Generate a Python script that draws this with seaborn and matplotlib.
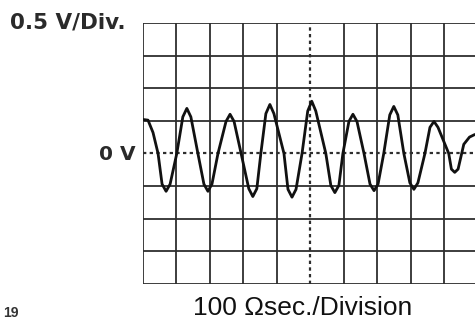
import matplotlib
matplotlib.use("Agg")
import matplotlib.pyplot as plt
import seaborn as sns
import pandas as pd

# waveform points (time in divisions, volts)
t_div = [0.00, 0.15, 0.30, 0.45,
         0.57, 0.69, 0.81, 1.01, 1.19, 1.31, 1.43, 1.64,
         1.82, 1.94, 2.06, 2.24, 2.48, 2.60, 2.72, 2.93,
         3.16, 3.28, 3.40, 3.52, 3.67, 3.79, 3.91, 4.21,
         4.33, 4.45, 4.57, 4.75, 4.92, 5.04, 5.16, 5.46,
         5.61, 5.73, 5.85, 5.97, 6.15, 6.27, 6.39, 6.60,
         6.78, 6.90, 7.02, 7.19, 7.37, 7.49, 7.61, 7.79,
         7.97, 8.09, 8.21, 8.42, 8.57, 8.69, 8.81, 9.13,
         9.21, 9.31, 9.41, 9.58, 9.75, 9.91]
volts = [0.52, 0.51, 0.32, 0.00,
         -0.47, -0.58, -0.47, 0.00, 0.56, 0.69, 0.56, 0.00,
         -0.47, -0.58, -0.47, 0.00, 0.49, 0.60, 0.49, 0.00,
         -0.54, -0.66, -0.54, 0.00, 0.61, 0.75, 0.61, 0.00,
         -0.55, -0.67, -0.55, 0.00, 0.65, 0.80, 0.65, 0.00,
         -0.49, -0.60, -0.49, 0.00, 0.49, 0.60, 0.49, 0.00,
         -0.47, -0.57, -0.47, 0.00, 0.59, 0.72, 0.59, 0.00,
         -0.45, -0.55, -0.45, 0.00, 0.40, 0.49, 0.40, 0.00,
         -0.24, -0.29, -0.24, 0.14, 0.25, 0.29]

x_grid = [0, 1, 2, 3, 4, 6, 7, 8, 9, 10]
y_grid = [-2.0, -1.5, -1.0, -0.5, 0.5, 1.0, 1.5, 2.0]

df = pd.DataFrame({"t": t_div, "v": volts})

sns.set_style("white")
plt.rcParams['font.family'] = ['Liberation Sans', 'DejaVu Sans']

fig = plt.figure(figsize=(4.75, 3.22), dpi=100)
ax = fig.add_axes([0.301, 0.118, 0.705, 0.811])

# scope graticule
for xv in x_grid:
    ax.axvline(xv, color='#2e2e2e', lw=1.3, zorder=1)
for yv in y_grid:
    ax.axhline(yv, color='#2e2e2e', lw=1.3, zorder=1)
ax.axvline(5, color='#2e2e2e', lw=1.6, ls=(0, (1.5, 1.5)), zorder=1)
ax.axhline(0, color='#2e2e2e', lw=1.6, ls=(0, (1.5, 1.5)), zorder=1)

sns.lineplot(data=df, x="t", y="v", sort=False, color='#111111', linewidth=2.0, ax=ax, zorder=3)

ax.set_xlim(0, 10)
ax.set_ylim(-2, 2)
ax.set_xticks([])
ax.set_yticks([])
ax.set_xlabel('')
ax.set_ylabel('')
for s in ax.spines.values():
    s.set_visible(False)

fig.text(10 / 475, 1 - 23 / 322, '0.5 V/Div.', fontsize=15.5, fontweight='bold',
         family='DejaVu Sans', color='#2a2a2a', ha='left', va='center')
fig.text(136 / 475, 1 - 154 / 322, '0 V', fontsize=14.5, fontweight='bold',
         family='DejaVu Sans', color='#2a2a2a', ha='right', va='center')
fig.text(303 / 475, 1 - 308 / 322, '100 \u03a9sec./Division', fontsize=19,
         color='#111111', ha='center', va='center')
fig.text(3 / 475, 1 - 306 / 322, '19', fontsize=10, fontweight='bold',
         color='#333333', ha='left', va='top')

fig.savefig('out.png', dpi=100)
